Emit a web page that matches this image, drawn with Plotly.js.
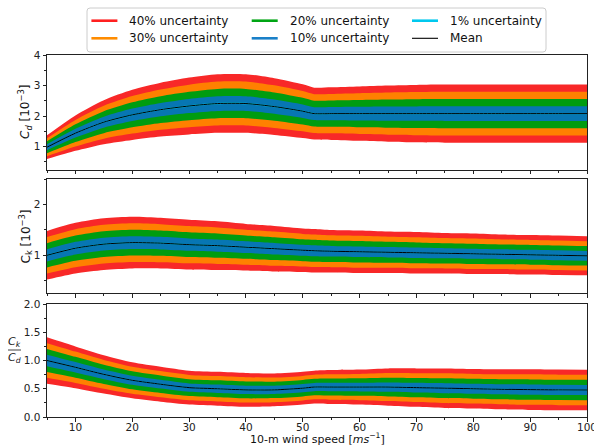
<!DOCTYPE html>
<html>
<head>
<meta charset="utf-8">
<script src="https://cdn.plot.ly/plotly-3.0.1.min.js"></script>
<style>
  html, body { margin: 0; padding: 0; background: #fff; }
  #chart { width: 594px; height: 445px; }
</style>
</head>
<body>
<div id="chart"></div>
<script>
// 10-m wind speed (m/s) sample points shared by all three panels
const windSpeed = [5, 10, 15, 20, 25, 30, 35, 40, 45, 50, 52, 55, 60, 65, 70, 75, 80, 85, 90, 95, 100];

// Drag coefficient C_d [1e-3]: mean and half-width of the 40% band
const cdMean     = [0.98, 1.44, 1.80, 2.04, 2.21, 2.33, 2.41, 2.41, 2.31, 2.16, 2.08, 2.08, 2.08, 2.08, 2.08, 2.08, 2.08, 2.08, 2.08, 2.08, 2.08];
const cdSpread40 = [0.39, 0.58, 0.72, 0.82, 0.88, 0.93, 0.96, 0.96, 0.93, 0.88, 0.85, 0.86, 0.89, 0.92, 0.94, 0.95, 0.95, 0.95, 0.95, 0.95, 0.95];

// Enthalpy coefficient C_k [1e-3]
const ckMean     = [1.00, 1.14, 1.22, 1.25, 1.24, 1.21, 1.19, 1.16, 1.13, 1.10, 1.09, 1.08, 1.07, 1.06, 1.05, 1.04, 1.03, 1.02, 1.01, 1.00, 0.99];
const ckSpread40 = [0.48, 0.50, 0.51, 0.51, 0.50, 0.49, 0.48, 0.46, 0.45, 0.43, 0.43, 0.42, 0.42, 0.41, 0.41, 0.40, 0.40, 0.39, 0.39, 0.39, 0.385];

// Ratio C_k / C_d
const ratioMean     = [1.00, 0.88, 0.755, 0.65, 0.58, 0.52, 0.50, 0.48, 0.48, 0.51, 0.53, 0.53, 0.53, 0.53, 0.52, 0.51, 0.50, 0.49, 0.485, 0.48, 0.478];
const ratioSpread40 = [0.41, 0.37, 0.34, 0.32, 0.31, 0.30, 0.30, 0.30, 0.29, 0.29, 0.29, 0.30, 0.31, 0.33, 0.34, 0.35, 0.35, 0.355, 0.36, 0.36, 0.36];

// Uncertainty levels (percent) and their colours
const levels       = [40, 30, 20, 10, 1];
const bandColors   = ['#f82828', '#ff8000', '#009c10', '#0776b3', '#00c8e6'];
const legendColors = ['#ff2020', '#ff8c00', '#00a514', '#1a80c8', '#00c8ee', '#000000'];
const legendNames  = ['40% uncertainty', '30% uncertainty', '20% uncertainty', '10% uncertainty', '1% uncertainty', 'Mean'];

const panels = [
  { mean: cdMean,    spread: cdSpread40,    xa: 'x',  ya: 'y'  },
  { mean: ckMean,    spread: ckSpread40,    xa: 'x2', ya: 'y2' },
  { mean: ratioMean, spread: ratioSpread40, xa: 'x3', ya: 'y3' }
];

const traces = [];
panels.forEach(p => {
  levels.forEach((lev, i) => {
    const f = lev / 40;
    const upper = p.mean.map((m, k) => m + p.spread[k] * f);
    const lower = p.mean.map((m, k) => m - p.spread[k] * f);
    traces.push({
      x: windSpeed, y: upper, xaxis: p.xa, yaxis: p.ya, name: legendNames[i],
      mode: 'lines', line: { width: 0, shape: 'spline', smoothing: 0.7 },
      showlegend: false, hoverinfo: 'skip'
    });
    traces.push({
      x: windSpeed, y: lower, xaxis: p.xa, yaxis: p.ya, name: legendNames[i],
      mode: 'lines', line: { width: 0, shape: 'spline', smoothing: 0.7 },
      fill: 'tonexty', fillcolor: bandColors[i],
      showlegend: false, hoverinfo: 'skip'
    });
  });
  traces.push({
    x: windSpeed, y: p.mean, xaxis: p.xa, yaxis: p.ya, name: 'Mean',
    mode: 'lines', line: { color: '#000', width: 1, shape: 'spline', smoothing: 0.7 },
    showlegend: false, hoverinfo: 'skip'
  });
});

// ---- legend box (three columns, two rows), placed in pixel terms ----
const W = 594, H = 445, M = { l: 47, r: 7, t: 55, b: 28 };
const plotW = W - M.l - M.r, plotH = H - M.t - M.b;
const px = x => (x - M.l) / plotW;          // pixel x -> paper x
const py = y => (H - M.b - y) / plotH;      // pixel y -> paper y

const legendTextX = [127.4, 287.7, 448];
const legendRowY  = [20.7, 38.3];
const shapes = [];
const annotations = [];

// rounded frame
(function () {
  const x0 = px(87), x1 = px(546), yt = py(8), yb = py(52);
  const rx = 3 / plotW, ry = 3 / plotH;
  shapes.push({
    type: 'path', xref: 'paper', yref: 'paper',
    path: `M ${x0 + rx},${yt} L ${x1 - rx},${yt} Q ${x1},${yt} ${x1},${yt - ry} ` +
          `L ${x1},${yb + ry} Q ${x1},${yb} ${x1 - rx},${yb} L ${x0 + rx},${yb} ` +
          `Q ${x0},${yb} ${x0},${yb + ry} L ${x0},${yt - ry} Q ${x0},${yt} ${x0 + rx},${yt} Z`,
    line: { color: '#cccccc', width: 1 }, fillcolor: '#ffffff', layer: 'above'
  });
})();

legendNames.forEach((name, i) => {
  const col = Math.floor(i / 2), row = i % 2;
  const tx = legendTextX[col], ty = legendRowY[row];
  const isMean = name === 'Mean';
  shapes.push({
    type: 'line', xref: 'paper', yref: 'paper',
    x0: px(tx - 36), x1: px(tx - 10), y0: py(ty), y1: py(ty),
    line: { color: legendColors[i], width: isMean ? 1.1 : 2.6 }
  });
  annotations.push({
    xref: 'paper', yref: 'paper', x: px(tx), y: py(ty), xanchor: 'left', yanchor: 'middle',
    showarrow: false, text: name, font: { family: 'DejaVu Sans', size: 12, color: '#111' }
  });
});

// axis titles
annotations.push(
  { xref: 'paper', yref: 'paper', x: 0.5, y: py(438), xanchor: 'center', yanchor: 'middle', showarrow: false,
    text: '10-m wind speed [<i>ms</i><sup>−1</sup>]', font: { family: 'DejaVu Sans', size: 11, color: '#111' } },
  { xref: 'paper', yref: 'paper', x: px(25), y: py(112), xanchor: 'center', yanchor: 'middle', showarrow: false, textangle: -90,
    text: '<i>C<sub>d</sub></i> [10<sup>−3</sup>]', font: { family: 'DejaVu Sans', size: 12, color: '#111' } },
  { xref: 'paper', yref: 'paper', x: px(25), y: py(236.5), xanchor: 'center', yanchor: 'middle', showarrow: false, textangle: -90,
    text: 'C<sub>k</sub> [10<sup>−3</sup>]', font: { family: 'DejaVu Sans', size: 12, color: '#111' } },
  { xref: 'paper', yref: 'paper', x: px(14.5), y: py(342), xanchor: 'center', yanchor: 'middle', showarrow: false,
    text: '<i>C<sub>k</sub></i>', font: { family: 'DejaVu Sans', size: 11, color: '#111' } },
  { xref: 'paper', yref: 'paper', x: px(14.5), y: py(358), xanchor: 'center', yanchor: 'middle', showarrow: false,
    text: '<i>C<sub>d</sub></i>', font: { family: 'DejaVu Sans', size: 11, color: '#111' } }
);
shapes.push({ type: 'line', xref: 'paper', yref: 'paper', x0: px(8), x1: px(21), y0: py(350), y1: py(350),
              line: { color: '#111', width: 0.8 } });

const axisLine = { showline: true, linecolor: '#222', linewidth: 1, mirror: true,
                   showgrid: false, zeroline: false, ticks: 'outside', ticklen: 3.5,
                   tickcolor: '#222', tickwidth: 1 };
const tickFont = { family: 'DejaVu Sans', size: 10.5, color: '#222' };

function xAxis(showLabels) {
  return Object.assign({}, axisLine, {
    range: [5, 100], tick0: 0, dtick: 10, showticklabels: showLabels, tickfont: tickFont,
    ticklabeloverflow: 'allow', ticklabelstandoff: -3,
    minor: { dtick: 5, tick0: 0, ticks: 'outside', ticklen: 2, tickcolor: '#222' }
  });
}

const layout = {
  width: W, height: H,
  margin: M,
  paper_bgcolor: '#fff', plot_bgcolor: '#fff',
  font: { family: 'DejaVu Sans', size: 12, color: '#111' },
  showlegend: false,
  xaxis: Object.assign(xAxis(true), { anchor: 'y3' }),
  xaxis2: Object.assign(xAxis(false), { anchor: 'y2', matches: 'x' }),
  xaxis3: Object.assign(xAxis(false), { anchor: 'y', matches: 'x' }),
  yaxis: Object.assign({}, axisLine, {
    domain: [py(169.5), 1], range: [0.25, 4], tickvals: [1, 2, 3, 4], tickfont: tickFont, anchor: 'x3',
    minor: { dtick: 0.5, tick0: 0, ticks: 'outside', ticklen: 2, tickcolor: '#222' }
  }),
  yaxis2: Object.assign({}, axisLine, {
    domain: [py(293.3), py(179.3)], range: [0.25, 2.5], tickvals: [1, 2], tickfont: tickFont, anchor: 'x2',
    minor: { dtick: 0.5, tick0: 0, ticks: 'outside', ticklen: 2, tickcolor: '#222' }
  }),
  yaxis3: Object.assign({}, axisLine, {
    domain: [0, py(304)], range: [0, 2], dtick: 0.5, tick0: 0, tickformat: '.1f', tickfont: tickFont, anchor: 'x',
    minor: { dtick: 0.25, tick0: 0, ticks: 'outside', ticklen: 2, tickcolor: '#222' }
  }),
  annotations: annotations,
  shapes: shapes
};

Plotly.newPlot('chart', traces, layout, { staticPlot: true, displayModeBar: false });
</script>
</body>
</html>
